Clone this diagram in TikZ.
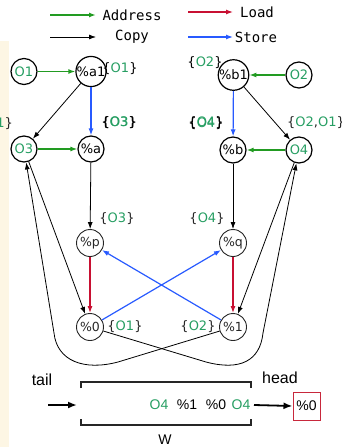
\documentclass[tikz,border=0pt]{standalone}
\usepackage{fontspec}
\setmainfont{DejaVu Sans}
\newfontfamily\legendfont{DejaVu Sans Mono}
\newfontfamily\arialfont{Liberation Sans}
\usetikzlibrary{arrows.meta}
\definecolor{addrgreen}{RGB}{34,155,34}
\definecolor{objgreen}{RGB}{38,158,98}
\definecolor{loadred}{RGB}{200,16,50}
\definecolor{storeblue}{RGB}{40,90,255}
\definecolor{cream}{RGB}{253,246,228}
\definecolor{boxred}{RGB}{200,40,60}
\newcommand\obj[1]{\textcolor{objgreen}{#1}}

\begin{document}
\begin{tikzpicture}[x=1pt,y=-1pt,
  >={Latex[length=7pt,width=5pt]},
  var/.style={circle,draw,line width=1.2pt,minimum size=26pt,inner sep=0pt,
    font=\fontsize{13}{15}\selectfont},
  objnode/.style={var,text=objgreen},
  ptr/.style={circle,draw=black!85,line width=0.9pt,minimum size=27pt,inner sep=0pt,
    font=\fontsize{12.5}{14}\selectfont,text=black!85},
  pts/.style={font=\fontsize{13}{15}\selectfont,text=black!85,inner sep=0pt},
  legend/.style={font=\legendfont\fontsize{14}{16}\selectfont,inner sep=0pt},
  seq/.style={font=\arialfont\fontsize{14}{16}\selectfont,inner sep=0pt},
  caption/.style={font=\arialfont\fontsize{16}{18}\selectfont,inner sep=0pt},
  addr/.style={->,draw=addrgreen,line width=1.4pt},
  copyedge/.style={->,draw=black,line width=0.8pt},
  load/.style={->,draw=loadred,line width=1.2pt},
  store/.style={->,draw=storeblue,line width=1.2pt},
  bigarrow/.style={line width=1.8pt,-{Latex[length=9pt,width=7pt]}},
  bracketline/.style={line width=1.1pt,draw=black!85}
]
\useasboundingbox (0,0) rectangle (342,447);
\fill[cream] (0,41) rectangle (9,447);

% legend
\coordinate (la1) at (50,15);  \coordinate (la2) at (96,15);
\coordinate (ll1) at (188,12); \coordinate (ll2) at (233,12);
\coordinate (lc1) at (50,37);  \coordinate (lc2) at (96,37);
\coordinate (ls1) at (188,37); \coordinate (ls2) at (233,37);
\draw[addr] (la1) -- (la2);
\draw[load] (ll1) -- (ll2);
\draw[copyedge] (lc1) -- (lc2);
\draw[store] (ls1) -- (ls2);
\node[legend] (tAddr) at (132,15) {Address};
\node[legend] (tLoad) at (257,12) {Load};
\node[legend] (tCopy) at (132,37) {Copy};
\node[legend] (tStore) at (256,37) {Store};

% variables and objects
\node[objnode] (O1) at (24,71.5) {O1};
\node[var] (a1) at (91,71.5) {\%a1};
\node[var] (b1) at (233.5,75) {\%b1};
\node[objnode] (O2) at (299,75) {O2};
\node[objnode] (O3) at (24,149) {O3};
\node[var] (a) at (91,149) {\%a};
\node[var] (b) at (233,150) {\%b};
\node[objnode] (O4) at (299,150) {O4};
\node[ptr] (p) at (90,243) {\%p};
\node[ptr] (q) at (233,243) {\%q};
\node[ptr] (z0) at (90,327) {\%0};
\node[ptr] (z1) at (233,327) {\%1};

% points-to sets
\node[pts,text=black] (sa1) at (120,69) {\{\obj{O1}\}};
\node[pts,text=black] (sb1) at (205,63) {\{\obj{O2}\}};
\node[pts,text=black] (sa) at (119,123) {\{\obj{O3}\}};
\node[pts,text=black] (saB) at (119.5,123) {\{\obj{O3}\}};
\node[pts,text=black] (sb) at (206,123) {\{\obj{O4}\}};
\node[pts,text=black] (sbB) at (206,124) {\{\obj{O4}\}};
\node[pts,anchor=west] (sO4) at (287,123) {\{\obj{O2},\obj{O1}\}};
\node[pts,anchor=east] (sO3) at (13,124) {\{\obj{O2},\obj{O1}\}};
\node[pts] (sp) at (117,219) {\{\obj{O3}\}};
\node[pts] (sq) at (207,219) {\{\obj{O4}\}};
\node[pts] (s0) at (125,327) {\{\obj{O1}\}};
\node[pts] (s1) at (198,327) {\{\obj{O2}\}};

% address-of
\draw[addr] (O1) -- (a1);
\draw[addr] (O2) -- (b1);
\draw[addr] (O3) -- (a);
\draw[addr] (O4) -- (b);
% copies
\draw[copyedge] (a1) -- (O3);
\draw[copyedge] (b1) -- (O4);
\draw[copyedge] (a) -- (p);
\draw[copyedge] (b) -- (q);
\draw[copyedge] (O3) -- (z0);
\draw[copyedge] (O4) -- (z1);
% stores
\draw[store] (a1) -- (a);
\draw[store] (b1) -- (b);
\draw[store] (z0) -- (q);
\draw[store] (z1) -- (p);
% loads
\draw[load] (p) -- (z0);
\draw[load] (q) -- (z1);

% copies looping back underneath
\coordinate (ca1) at (118,362);
\coordinate (ca2) at (54,333);
\coordinate (cb1) at (206,362);
\coordinate (cb2) at (263,333);
\draw[copyedge] (z1) -- (ca1) .. controls (84,371) and (57,361) .. (ca2) -- (O3);
\draw[copyedge] (z0) -- (cb1) .. controls (240,371) and (260,361) .. (cb2) -- (O4);

% worklist
\node[caption] (tail) at (42,380) {tail};
\node[caption] (head) at (280,378) {head};
\coordinate (t1) at (48,405); \coordinate (t2) at (77,405);
\draw[bigarrow] (t1) -- (t2);
\draw[bracketline] (81,388) -- (81,382) -- (251,382) -- (251,388);
\draw[bracketline] (81,419) -- (81,425) -- (251,425) -- (251,419);
\node[seq,text=objgreen] (w1) at (159,405) {O4};
\node[seq] (w2) at (187,405) {\%1};
\node[seq] (w3) at (216,405) {\%0};
\node[seq,text=objgreen] (w4) at (241,405) {O4};
\node[seq,draw=boxred,line width=1pt,minimum width=27pt,minimum height=28pt] (hb) at (306.5,406) {\%0};
\coordinate (h1) at (254,405);
\draw[bigarrow] (h1) -- (hb.west);
\node[caption,font=\arialfont\fontsize{14}{16}\selectfont] (W) at (165,440) {W};
\end{tikzpicture}
\end{document}
